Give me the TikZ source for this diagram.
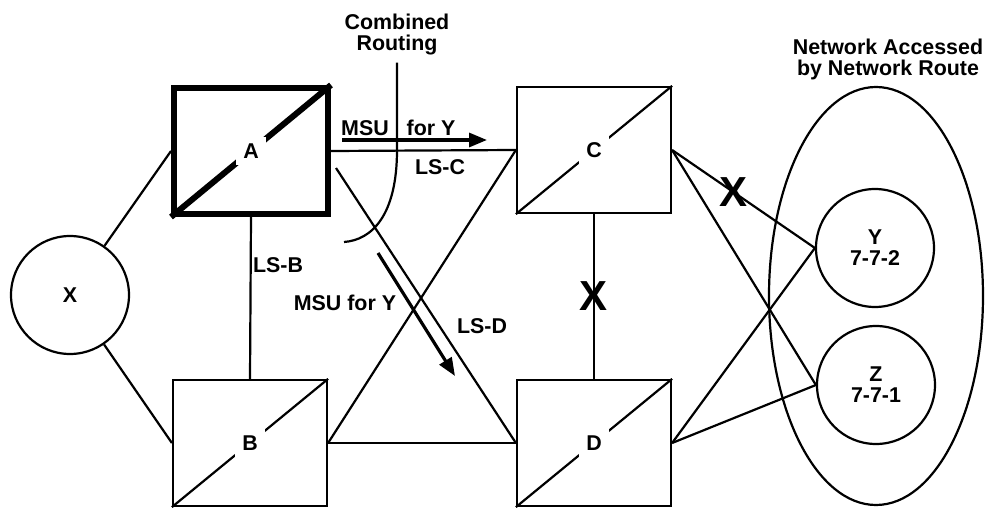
\documentclass[tikz,border=0pt]{standalone}
\usepackage{fontspec}
\setmainfont{Liberation Sans}
\usetikzlibrary{arrows.meta,shapes.geometric}

\begin{document}
\begin{tikzpicture}[x=0.5pt,y=-0.5pt,
        every node/.style={font=\fontsize{10.7}{10.5}\selectfont\bfseries},
        box/.style={draw, line width=1.1pt, minimum width=77pt, minimum height=63pt, inner sep=0pt},
        site/.style={circle, draw, line width=1.1pt, minimum size=59pt, inner sep=0pt, align=center},
        tag/.style={fill=white, minimum width=15pt, minimum height=14pt, inner sep=0pt},
        bigx/.style={font=\fontsize{21}{21}\selectfont\bfseries, inner sep=0pt},
        link/.style={line width=1.1pt},
        msu/.style={line width=1.6pt, -{Triangle[length=9pt,width=7pt]}}]
        \useasboundingbox (0,0) rectangle (987,508);

        % Define the signalling points
        \node[site] (X) at (70,295) {X};
        \node[box, line width=3pt] (A) at (251,151) {};
        \node[box] (B) at (250,443) {};
        \node[box] (C) at (594,150) {};
        \node[box] (D) at (594,443) {};

        % Define the remote network
        \node[ellipse, draw, link, minimum width=107pt, minimum height=209pt] (net) at (876,296) {};
        \node[site] (Y) at (875,248) {Y\\7-7-2};
        \node[site] (Z) at (876,385) {Z\\7-7-1};
        \node[align=center] (netname) at (888,59) {Network Accessed\\by Network Route};

        % Diagonals and names in the boxes
        \draw[line width=3pt] (A.south west) -- (A.north east);
        \foreach \n in {B,C,D} \draw[link] (\n.south west) -- (\n.north east);
        \foreach \n in {A,B,C,D} \node[tag] (lab\n) at (\n) {\n};

        % Define the links
        \draw[link] (X) -- (A.west);
        \draw[link] (X) -- (B.west);
        \draw[link] (A.south) -- (B.north);
        \draw[link] (A.east) -- (C.west);
        \coordinate (ld) at (336,168);
        \draw[link] (ld) -- (D.west);
        \draw[link] (B.east) -- (C.west);
        \draw[link] (B.east) -- (D.west);
        \draw[link] (C.south) -- node[bigx] {X} (D.north);
        \draw[link] (C.east) -- node[bigx, pos=0.43] {X} (Y.west);
        \draw[link] (C.east) -- (Z.west);
        \draw[link] (D.east) -- (Y.west);
        \draw[link] (D.east) -- (Z.west);

        % Combined routing
        \node[align=center] (route) at (397,35) {Combined\\Routing};
        \coordinate (re) at (344,242);
        \draw[link] (route.south) -- (397,150) .. controls (397,215) and (372,240) .. (re);

        % Link labels and message flow
        \node (msu) at (365,128) {MSU};
        \node (fory) at (431,128) {for Y};
        \coordinate (m1) at (342,140);
        \coordinate (m2) at (487,140);
        \draw[msu] (m1) -- (m2);
        \node (lsc) at (440,167) {LS-C};
        \node (lsb) at (278,265) {LS-B};
        \node (msud) at (345,303) {MSU for Y};
        \node (lsd) at (482,326) {LS-D};
        \coordinate (d1) at (378,253);
        \coordinate (d2) at (455,376);
        \draw[msu] (d1) -- (d2);
    \end{tikzpicture}
\end{document}
